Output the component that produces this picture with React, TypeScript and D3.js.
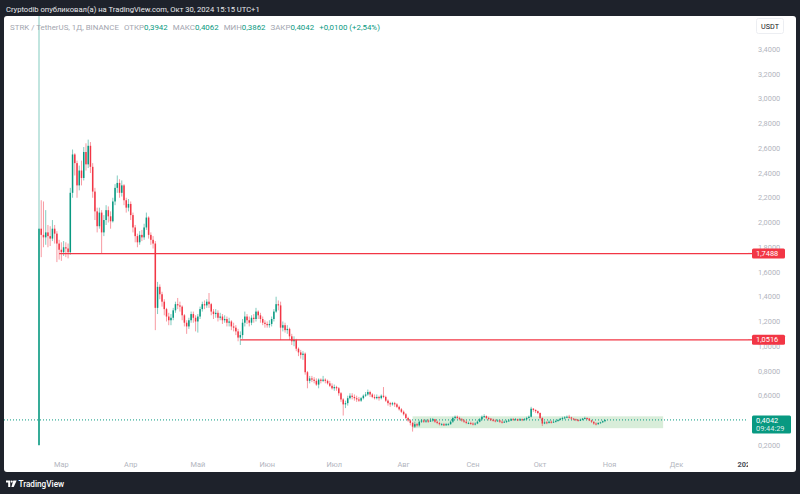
import React from "react";
import * as d3 from "d3";

// ---- data (STRK/USDT daily, from 2024-02-20) ----
const startDate = "2024-02-20";
const firstOpen = 0.2;
const closes = [
  1.95, 1.9, 1.88, 1.92, 1.89, 1.87, 1.95, 1.91, 1.83, 1.78,
  1.76, 1.8, 1.79, 1.76, 2.24, 2.55, 2.48, 2.3, 2.42, 2.36,
  2.57, 2.47, 2.62, 2.45, 2.25, 2.09, 1.97, 2.08, 1.92, 2.02,
  2.1, 2.05, 2.01, 2.17, 2.28, 2.32, 2.24, 2.3, 2.18, 2.12,
  2.15, 2.06, 1.96, 1.89, 1.84, 1.9, 1.88, 1.96, 2.04, 1.9,
  1.86, 1.83, 1.31, 1.48, 1.42, 1.36, 1.3, 1.24, 1.21, 1.23,
  1.29, 1.34, 1.33, 1.32, 1.25, 1.19, 1.16, 1.21, 1.26, 1.23,
  1.2, 1.24, 1.3, 1.34, 1.33, 1.36, 1.34, 1.28, 1.26, 1.27,
  1.23, 1.24, 1.21, 1.22, 1.19, 1.2, 1.16, 1.15, 1.12, 1.07,
  1.09, 1.19, 1.24, 1.21, 1.19, 1.23, 1.22, 1.28, 1.25, 1.22,
  1.19, 1.18, 1.17, 1.18, 1.22, 1.28, 1.34, 1.33, 1.15, 1.17,
  1.13, 1.14, 1.08, 1.04, 1.05, 0.98, 0.95, 0.93, 0.94, 0.79,
  0.72, 0.74, 0.73, 0.72, 0.69, 0.73, 0.72, 0.73, 0.72, 0.7,
  0.68, 0.66, 0.67, 0.66, 0.62, 0.57, 0.53, 0.54, 0.58, 0.6,
  0.59, 0.58, 0.57, 0.56, 0.58, 0.6, 0.61, 0.63, 0.61, 0.59,
  0.58, 0.59, 0.58, 0.6, 0.59, 0.56, 0.54, 0.53, 0.54, 0.53,
  0.51, 0.49, 0.47, 0.45, 0.42, 0.4, 0.38, 0.35, 0.37, 0.36,
  0.39, 0.4, 0.39, 0.4, 0.39, 0.4, 0.41, 0.39, 0.38, 0.37,
  0.37, 0.36, 0.37, 0.37, 0.39, 0.42, 0.43, 0.42, 0.41, 0.4,
  0.39, 0.38, 0.38, 0.375, 0.37, 0.375, 0.39, 0.41, 0.43, 0.435,
  0.42, 0.415, 0.405, 0.4, 0.395, 0.4, 0.39, 0.385, 0.39, 0.395,
  0.4, 0.41, 0.405, 0.41, 0.4, 0.41, 0.405, 0.41, 0.42, 0.43,
  0.495, 0.485, 0.475, 0.46, 0.42, 0.375, 0.385, 0.38, 0.39, 0.385,
  0.39, 0.395, 0.405, 0.415, 0.42, 0.425, 0.43, 0.425, 0.415, 0.41,
  0.405, 0.4, 0.405, 0.415, 0.42, 0.415, 0.4, 0.39, 0.375, 0.37,
  0.38, 0.385, 0.3942, 0.4042,
];
const highs = [
  5.2, 2.18, 2.17, 2.1, 1.98, 1.97, 2.02, 1.98, 1.93, 1.86,
  1.84, 1.85, 1.84, 1.83, 2.28, 2.59, 2.56, 2.5, 2.46, 2.5,
  2.61, 2.64, 2.67, 2.65, 2.48, 2.28, 2.12, 2.12, 2.1, 2.06,
  2.14, 2.13, 2.09, 2.2, 2.31, 2.38, 2.35, 2.34, 2.31, 2.2,
  2.19, 2.17, 2.08, 1.98, 1.91, 1.93, 1.94, 1.99, 2.08, 2.05,
  1.92, 1.89, 1.85, 1.52, 1.5, 1.44, 1.38, 1.31, 1.27, 1.26,
  1.31, 1.36, 1.39, 1.36, 1.33, 1.26, 1.21, 1.23, 1.28, 1.28,
  1.25, 1.26, 1.32, 1.36, 1.37, 1.38, 1.43, 1.35, 1.3, 1.3,
  1.29, 1.27, 1.26, 1.25, 1.24, 1.23, 1.21, 1.19, 1.17, 1.14,
  1.12, 1.22, 1.28, 1.26, 1.24, 1.25, 1.26, 1.31, 1.29, 1.27,
  1.24, 1.21, 1.2, 1.21, 1.24, 1.3, 1.4, 1.37, 1.36, 1.2,
  1.19, 1.17, 1.15, 1.1, 1.08, 1.06, 0.99, 0.97, 0.96, 0.95,
  0.8, 0.76, 0.76, 0.75, 0.74, 0.74, 0.74, 0.76, 0.74, 0.73,
  0.72, 0.7, 0.69, 0.68, 0.67, 0.63, 0.58, 0.56, 0.6, 0.62,
  0.62, 0.61, 0.6, 0.59, 0.59, 0.61, 0.63, 0.65, 0.64, 0.62,
  0.61, 0.61, 0.6, 0.61, 0.67, 0.6, 0.57, 0.55, 0.55, 0.55,
  0.54, 0.52, 0.5, 0.48, 0.46, 0.43, 0.41, 0.39, 0.39, 0.38,
  0.4, 0.41, 0.41, 0.41, 0.41, 0.42, 0.42, 0.41, 0.4, 0.39,
  0.38, 0.38, 0.38, 0.38, 0.4, 0.43, 0.44, 0.44, 0.43, 0.42,
  0.41, 0.4, 0.39, 0.39, 0.385, 0.385, 0.4, 0.42, 0.44, 0.45,
  0.44, 0.43, 0.42, 0.415, 0.41, 0.41, 0.405, 0.4, 0.4, 0.405,
  0.41, 0.42, 0.42, 0.42, 0.415, 0.42, 0.415, 0.42, 0.43, 0.44,
  0.51, 0.5, 0.49, 0.48, 0.465, 0.425, 0.395, 0.395, 0.4, 0.4,
  0.4, 0.405, 0.41, 0.42, 0.43, 0.435, 0.44, 0.445, 0.43, 0.42,
  0.415, 0.41, 0.415, 0.42, 0.43, 0.425, 0.42, 0.405, 0.39, 0.385,
  0.385, 0.39, 0.4, 0.4062,
];
const lows = [
  0.2, 1.72, 1.8, 1.82, 1.8, 1.81, 1.85, 1.83, 1.68, 1.7,
  1.69, 1.73, 1.72, 1.71, 1.74, 2.2, 2.38, 2.2, 2.26, 2.3,
  2.34, 2.42, 2.44, 2.4, 2.2, 2.02, 1.92, 1.95, 1.75, 1.89,
  1.98, 2.0, 1.95, 2.0, 2.14, 2.24, 2.2, 2.21, 2.14, 2.08,
  2.09, 2.02, 1.92, 1.84, 1.8, 1.82, 1.85, 1.86, 1.94, 1.87,
  1.82, 1.79, 1.13, 1.26, 1.38, 1.32, 1.25, 1.2, 1.17, 1.17,
  1.21, 1.27, 1.3, 1.28, 1.21, 1.16, 1.1, 1.14, 1.19, 1.19,
  1.12, 1.11, 1.22, 1.28, 1.3, 1.31, 1.31, 1.25, 1.22, 1.23,
  1.2, 1.21, 1.18, 1.19, 1.16, 1.16, 1.13, 1.12, 1.09, 1.04,
  1.01, 1.06, 1.16, 1.18, 1.16, 1.17, 1.19, 1.2, 1.22, 1.19,
  1.17, 1.15, 1.15, 1.15, 1.16, 1.2, 1.27, 1.29, 1.05, 1.12,
  1.11, 1.1, 1.05, 1.01, 1.0, 0.96, 0.92, 0.9, 0.89, 0.77,
  0.66, 0.7, 0.71, 0.7, 0.68, 0.66, 0.7, 0.71, 0.7, 0.69,
  0.67, 0.65, 0.64, 0.64, 0.6, 0.55, 0.44, 0.5, 0.52, 0.57,
  0.57, 0.56, 0.55, 0.55, 0.55, 0.57, 0.59, 0.6, 0.59, 0.58,
  0.57, 0.57, 0.56, 0.57, 0.58, 0.55, 0.52, 0.51, 0.52, 0.51,
  0.5, 0.48, 0.46, 0.44, 0.41, 0.39, 0.36, 0.31, 0.34, 0.35,
  0.35, 0.38, 0.38, 0.38, 0.38, 0.39, 0.39, 0.38, 0.37, 0.36,
  0.36, 0.355, 0.36, 0.36, 0.365, 0.38, 0.41, 0.41, 0.4, 0.39,
  0.38, 0.37, 0.37, 0.365, 0.36, 0.36, 0.37, 0.385, 0.4, 0.42,
  0.41, 0.4, 0.395, 0.39, 0.385, 0.39, 0.38, 0.375, 0.38, 0.38,
  0.39, 0.395, 0.4, 0.4, 0.395, 0.4, 0.395, 0.4, 0.405, 0.415,
  0.425, 0.47, 0.46, 0.45, 0.41, 0.355, 0.37, 0.37, 0.375, 0.375,
  0.38, 0.385, 0.39, 0.4, 0.41, 0.41, 0.42, 0.415, 0.405, 0.4,
  0.395, 0.39, 0.395, 0.4, 0.41, 0.405, 0.395, 0.38, 0.365, 0.36,
  0.365, 0.375, 0.38, 0.3862,
];
// 0,4000 is hidden behind the last-price label in the reference
const yTicks = [0.2, 0.6, 0.8, 1.0, 1.2, 1.4, 1.6, 1.8, 2.0, 2.2, 2.4, 2.6, 2.8, 3.0, 3.2, 3.4];
const monthTicks = ["2024-03-01", "2024-04-01", "2024-05-01", "2024-06-01", "2024-07-01", "2024-08-01", "2024-09-01", "2024-10-01", "2024-11-01", "2024-12-01", "2025-01-01"];
const monthLabels = ["Мар", "Апр", "Май", "Июн", "Июл", "Авг", "Сен", "Окт", "Ноя", "Дек", "2025"];
const levelValues = [1.7488, 1.0516];
const levelStarts = ["2024-02-29", "2024-05-20"];
const rangeBox = { from: "2024-08-05", to: "2024-11-25", low: 0.3375, high: 0.4335 };
const lastPrice = 0.4042;
const lastTimer = "09:44:29";

const GREEN = "#089981";
const RED = "#f23645";
const FONT = "Roboto, 'Noto Sans', sans-serif";

const parse = (s: string) => new Date(s + "T00:00:00Z");
const fmt = (v: number) => v.toFixed(4).replace(".", ",");

export default function App() {
  const W = 800, H = 494;
  const plotL = 4, plotR = 748, plotT = 16, plotB = 455;
  const start = parse(startDate);
  const dayMs = 86400000;
  const dayPx = 2.237;
  const x = d3.scaleUtc()
    .domain([start, new Date(start.getTime() + 100 * dayMs)])
    .range([39, 39 + 100 * dayPx]);
  const y = d3.scaleLinear().domain([0.2, 3.4]).range([445.2, 49.3]);

  const candles = closes.map((c, i) => {
    const o = i === 0 ? firstOpen : closes[i - 1];
    return {
      date: new Date(start.getTime() + i * dayMs),
      o, c,
      h: Math.max(highs[i], o, c),
      l: Math.min(lows[i], o, c),
    };
  });
  const bw = 1.5;

  return (
    <svg width={W} height={H} style={{ position: "fixed", left: 0, top: 0, display: "block" }} fontFamily={FONT}>
      <defs>
        <clipPath id="plot"><rect x={plotL} y={plotT} width={plotR - plotL} height={plotB - plotT} /></clipPath>
        <clipPath id="xaxis"><rect x={plotL} y={plotB} width={plotR - plotL} height={20} /></clipPath>
      </defs>
      <rect x={0} y={0} width={W} height={H} fill="#1e222b" />
      <text x={6} y={12} fontSize={7.6} fill="#e8e9ec">Cryptodib опубликовал(а) на TradingView.com, Окт 30, 2024 15:15 UTC+1</text>
      <rect x={4} y={16} width={792} height={456} rx={3} fill="#ffffff" />

      <g clipPath="url(#plot)">
        <rect
          x={x(parse(rangeBox.from))}
          y={y(rangeBox.high)}
          width={x(parse(rangeBox.to)) - x(parse(rangeBox.from))}
          height={y(rangeBox.low) - y(rangeBox.high)}
          fill="#4caf50" fillOpacity={0.22}
        />
        <line x1={plotL} x2={plotR} y1={y(lastPrice)} y2={y(lastPrice)} stroke={GREEN} strokeWidth={1} strokeDasharray="1,2" />
        {candles.map((d, i) => {
          const cx = x(d.date);
          const up = d.c >= d.o;
          const col = up ? GREEN : RED;
          const top = y(Math.max(d.o, d.c));
          const bot = y(Math.min(d.o, d.c));
          return (
            <g key={i}>
              <line x1={cx} x2={cx} y1={y(d.h)} y2={y(d.l)} stroke={col} strokeOpacity={0.5} strokeWidth={1} />
              <rect x={cx - bw / 2} y={top} width={bw} height={Math.max(1, bot - top)} fill={col} />
            </g>
          );
        })}
        {levelValues.map((v, i) => (
          <line key={i} x1={x(parse(levelStarts[i]))} x2={plotR + 4} y1={y(v)} y2={y(v)} stroke={RED} strokeWidth={1.3} />
        ))}
      </g>
      {levelValues.map((v, i) => (
        <line key={"e" + i} x1={plotR} x2={752} y1={y(v)} y2={y(v)} stroke={RED} strokeWidth={1.3} />
      ))}

      {/* legend */}
      <text x={10} y={29.5} fontSize={7.9} fill="#a3a6af">
        <tspan>STRK / TetherUS, 1Д, BINANCE</tspan>
        <tspan dx={5}>ОТКР</tspan>
        <tspan fill={GREEN}>0,3942</tspan>
        <tspan dx={5}>МАКС</tspan>
        <tspan fill={GREEN}>0,4062</tspan>
        <tspan dx={5}>МИН</tspan>
        <tspan fill={GREEN}>0,3862</tspan>
        <tspan dx={5}>ЗАКР</tspan>
        <tspan fill={GREEN}>0,4042</tspan>
        <tspan dx={5} fill={GREEN}>+0,0100 (+2,54%)</tspan>
      </text>

      {/* price axis */}
      <rect x={756.5} y={18.5} width={27} height={15} rx={2} fill="#fff" stroke="#eceef2" />
      <text x={770} y={29} fontSize={7.2} fill="#131722" textAnchor="middle">USDT</text>
      {yTicks.map((v) => (
        <text key={v} x={758} y={y(v) + 2.6} fontSize={7.4} fill="#b2b5be">{fmt(v)}</text>
      ))}
      {levelValues.map((v, i) => (
        <g key={"l" + i}>
          <rect x={752} y={y(v) - 5} width={33} height={10} rx={1.5} fill={RED} />
          <text x={756} y={y(v) + 2.6} fontSize={7.4} fill="#fff">{fmt(v)}</text>
        </g>
      ))}
      <rect x={752} y={y(lastPrice) - 4.5} width={39} height={18} rx={1.5} fill={GREEN} />
      <text x={756} y={y(lastPrice) + 2.6} fontSize={7.4} fill="#fff">{fmt(lastPrice)}</text>
      <text x={756} y={y(lastPrice) + 11} fontSize={7.4} fill="#fff" fillOpacity={0.85}>{lastTimer}</text>

      {/* time axis */}
      <g clipPath="url(#xaxis)">
        {monthTicks.map((m, i) => (
          <text key={m} x={x(parse(m))} y={467} fontSize={7.4} textAnchor="middle"
            fill={i === monthTicks.length - 1 ? "#4a4d57" : "#b2b5be"}
            fontWeight={i === monthTicks.length - 1 ? 700 : 400}>{monthLabels[i]}</text>
        ))}
      </g>

      {/* footer logo */}
      <g fill="#ffffff">
        <path d="M6,480.5 h4.2 v6.5 h-2 v-4.4 h-2.2 z" />
        <circle cx={11.7} cy={481.6} r={1.1} />
        <path d="M13.3,480.5 h3.4 l-3,6.5 h-2.3 z" />
        <text x={18.5} y={486.8} fontSize={8.2} fontWeight={500}>TradingView</text>
      </g>
    </svg>
  );
}
